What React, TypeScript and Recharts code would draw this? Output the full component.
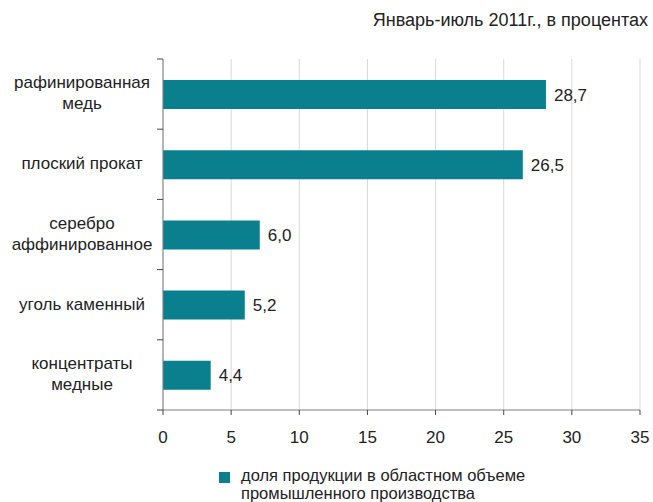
import { Bar, BarChart, CartesianGrid, LabelList, XAxis, YAxis } from 'recharts';

// categories top to bottom
const categories = [
  'рафинированная\nмедь',
  'плоский прокат',
  'серебро\nаффинированное',
  'уголь каменный',
  'концентраты\nмедные',
];
// bar lengths as drawn in the source chart (they don't quite agree with the printed numbers)
const barLengths = [28.1, 26.4, 7.1, 6.0, 3.5];
const valueLabels = ['28,7', '26,5', '6,0', '5,2', '4,4'];
const xTicks = [0, 5, 10, 15, 20, 25, 30, 35];

const title = 'Январь-июль 2011г., в процентах';
const legendLines = ['доля продукции в областном объеме', 'промышленного производства'];

const FONT = '"Liberation Sans", Arial, sans-serif';
const TEXT = '#222';
const BAR = '#0A7F8E';
const AXIS = '#7f7f7f';

const W = 653;
const H = 502;
const MARGIN = { top: 59, right: 13, bottom: 52, left: 0 };
const X_AXIS_H = 40;
const Y_AXIS_W = 163;
// height of one category band, used to put the little marks between categories
const BAND = (H - MARGIN.top - MARGIN.bottom - X_AXIS_H) / categories.length;

function CategoryTick({ x, y, payload, index }: any) {
  const lines = String(payload.value).split('\n');
  const first = lines.length > 1 ? -6 : 5;
  const cx = x - 81;
  const last = index === categories.length - 1;
  return (
    <g>
      <line x1={x - 6} x2={x} y1={y - BAND / 2} y2={y - BAND / 2} stroke="#444" />
      {last && <line x1={x - 6} x2={x} y1={y + BAND / 2} y2={y + BAND / 2} stroke="#444" />}
      <text x={cx} y={y} textAnchor="middle" fontSize={17} fill={TEXT} fontFamily={FONT}>
        {lines.map((l, i) => (
          <tspan key={i} x={cx} dy={i === 0 ? first : 21}>
            {l}
          </tspan>
        ))}
      </text>
    </g>
  );
}

export default function App() {
  const data = categories.map((name, i) => ({
    name,
    v: barLengths[i],
    label: valueLabels[i],
  }));

  return (
    <div style={{ position: 'relative', width: W, height: H, fontFamily: FONT, background: '#fff' }}>
      <style>{'body{margin:0}'}</style>
      <div
        style={{
          position: 'absolute',
          right: 5,
          top: 10,
          fontSize: 18,
          lineHeight: '20px',
          color: TEXT,
          whiteSpace: 'nowrap',
        }}
      >
        {title}
      </div>
      <BarChart width={W} height={H} layout="vertical" data={data} margin={MARGIN}>
        <CartesianGrid horizontal={false} stroke="#d9d9d9" />
        <XAxis
          type="number"
          domain={[0, 35]}
          ticks={xTicks}
          height={X_AXIS_H}
          axisLine={{ stroke: AXIS }}
          tickLine={{ stroke: '#444' }}
          tickSize={5}
          tickMargin={16}
          tick={{ fontSize: 17, fill: TEXT, fontFamily: FONT }}
        />
        <YAxis
          type="category"
          dataKey="name"
          width={Y_AXIS_W}
          axisLine={{ stroke: AXIS }}
          tickLine={false}
          tickSize={0}
          tickMargin={0}
          tick={<CategoryTick />}
          interval={0}
        />
        <Bar dataKey="v" fill={BAR} barSize={29} isAnimationActive={false}>
          <LabelList
            dataKey="label"
            position="right"
            offset={8}
            fill={TEXT}
            fontSize={17}
            fontFamily={FONT}
          />
        </Bar>
      </BarChart>
      <div style={{ position: 'absolute', left: 219, top: 472, width: 11, height: 11, background: BAR }} />
      <div
        style={{
          position: 'absolute',
          left: 241,
          top: 467,
          fontSize: 16.5,
          lineHeight: '17.5px',
          color: TEXT,
          whiteSpace: 'nowrap',
        }}
      >
        {legendLines.map((l) => (
          <div key={l}>{l}</div>
        ))}
      </div>
    </div>
  );
}
